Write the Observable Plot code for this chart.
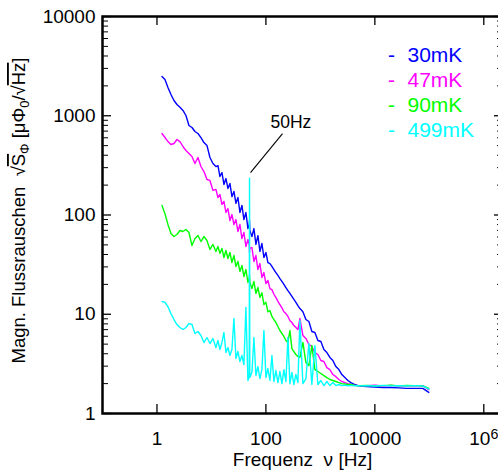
<!DOCTYPE html>
<html><head><meta charset="utf-8">
<script src="https://cdn.jsdelivr.net/npm/d3@7"></script>
<script src="https://cdn.jsdelivr.net/npm/@observablehq/plot@0.6"></script>
<style>
html,body{margin:0;padding:0;background:#fff;overflow:hidden;}
svg{max-width:none !important;}
</style></head><body><div id="chart"></div>
<script>
// shared frequency grid [Hz]
const freq = [
 1.235,1.402,1.591,1.806,2.051,2.328,2.642,2.999,3.405,3.865,4.387,4.981,5.654,6.418,7.285,8.270,9.387,10.66,12.09,
 13.16,14.32,15.58,16.96,18.45,20.08,21.85,23.78,25.88,28.16,30.64,33.34,36.28,39.48,42.95,46.74,49.4,50,50.6,55.35,60.23,65.54,71.32,77.61,84.46,91.9,100,108.8,118.4,128.9,140.2,152.6,166.1,180.7,196.7,214,232.8,253.4,275.7,300,326.5,355.3,386.6,420.7,
 477.5,542,615,698,793,900,1021,1160,1316,1494,1696,1925,2185,2480,2815,3196,3627,4118,4674,5306,
 7131,10000,14030,19670,27570,38660,54190,75970,97900
];
const s30mK = [
 2485,2320,1926,1637,1425,1299,1216,1130,1006,798,762,694,662,603,537,502,380,330,308,
 315,244,268,203,233,185,208,153,173,131,150,106,125,90,106,73,80,88,70,60.7,73,50.5,62,42.9,51.6,37.3,41.9,33.2,32.4,30.3,28.2,26.3,24.6,22.9,21.4,20.0,18.6,17.3,16.2,15.1,14.1,13.2,12.2,11.4,
 10.6,8.85,8.45,6.7,6.55,5.44,5.31,4.41,4.11,3.67,3.42,2.97,2.77,2.47,2.30,2.15,2.05,1.98,1.93,1.89,
 1.87,1.85,1.83,1.83,1.81,1.79,1.79,1.79,1.63
];
const s47mK = [
 662,604,549,513,525,576,549,490,447,417,389,330,380,308,274,228,223,177,181,
 150,161,128,137,106,116,88,101,80.2,90,68.2,80.2,57.9,66.6,48.2,56.6,50,41.9,46,47.1,34,39.1,28.2,32.4,23.5,26.3,20.4,21.9,18.1,17.7,15.9,14.8,13.5,12.5,11.6,10.6,10.15,9.5,8.65,8.26,7.70,7.35,7.02,9.06,
 6.11,5.71,4.96,4.73,4.11,3.93,3.42,3.34,2.90,2.77,2.47,2.35,2.20,2.10,2.05,2.0,1.96,1.93,1.91,1.91,
 1.91,1.93,1.90,1.92,1.90,1.91,1.90,1.91,1.74
];
const s90mK = [
 125,103,80.2,65.0,60.7,63.6,69.8,68.2,71.5,66.6,49.3,57.9,62.1,54.0,60.7,55.3,45.0,50.5,42.9,
 48.2,41.0,46.0,37.3,43.9,36.5,41.9,33.2,39.1,30.3,34.0,27.0,31.0,24.0,28.2,20.9,23,25,21,18.2,21.4,16.2,18.6,14.8,16.5,12.5,13.2,10.6,10.9,9.5,8.85,8.26,7.52,6.86,6.4,5.97,5.44,5.2,6.86,4.5,4.21,3.93,3.75,3.67,
 5.2,3.26,3.04,4.84,2.77,2.65,2.53,2.41,2.30,2.20,2.15,2.10,2.05,2.0,1.98,1.96,1.96,1.93,1.91,1.91,
 1.92,1.90,1.91,1.93,1.90,1.92,1.91,1.90,1.79
];
const s499mK = [
 13.4,13.2,11.9,10.15,8.85,7.88,7.35,7.02,7.35,8.06,7.88,6.4,6.7,6.11,5.19,5.83,5.07,5.70,4.62,
 5.44,4.41,5.2,6.55,4.11,4.62,3.84,4.41,9.06,3.58,4.21,3.34,3.84,3.11,11.7,2.15,2.4,235,2.3,2.59,5.83,2.41,2.97,2.25,2.77,6.86,2.30,2.84,2.15,3.84,2.10,2.71,2.05,2.65,2.0,2.77,2.10,5.83,2.0,2.59,1.96,2.47,2.05,8.65,
 2.0,2.25,5.07,1.96,4.84,1.96,2.15,1.91,2.10,1.91,2.05,1.91,1.96,1.91,1.93,1.90,1.92,1.90,1.91,1.90,
 1.91,1.89,1.92,1.90,1.91,1.89,1.91,1.90,1.76
];
const seriesNames = ["30mK","47mK","90mK","499mK"];
const seriesValues = [s30mK, s47mK, s90mK, s499mK];
const seriesColors = ["#0000ff","#ff00ff","#00ff00","#00ffff"];
const xTicks = [1, 100, 10000, 1e6];
const xTickLabels = ["1","100","10000","10\u2076"];
const yTicks = [1, 10, 100, 1000, 10000];
const yTickLabels = ["1","10","100","1000","10000"];
const yMinorTicks = [2,3,4,5,6,7,8,9,20,30,40,50,60,70,80,90,200,300,400,500,600,700,800,900,2000,3000,4000,5000,6000,7000,8000,9000];
const spikeNote = [{f: 50, s: 235, label: "50Hz"}];
const xTitle = "Frequenz\u00a0\u00a0\u03bd [Hz]";

const FONT = "'Liberation Sans', Arial, Helvetica, sans-serif";
const W = 504, H = 474, ML = 102, MR = 1, MT = 16, MB = 61;
const FW = W - ML - MR, FH = H - MT - MB;

const rows = seriesNames.flatMap((name, i) =>
  freq.map((f, j) => ({f, s: seriesValues[i][j], series: name})));

const lineMarks = seriesNames.map((name, i) =>
  Plot.line(rows.filter(d => d.series === name), {x: "f", y: "s", stroke: seriesColors[i], strokeWidth: 1.4}));

const legendMarks = seriesNames.flatMap((name, i) => [
  Plot.text(["-"], {frameAnchor: "top-right", dx: -112, dy: 39 + 25 * i, textAnchor: "middle", lineAnchor: "middle", fill: seriesColors[i], fontSize: 21}),
  Plot.text([name], {frameAnchor: "top-right", dx: -96, dy: 39 + 25 * i, textAnchor: "start", lineAnchor: "middle", fill: seriesColors[i], fontSize: 21})
]);

const chart = Plot.plot({
  width: W, height: H,
  marginLeft: ML, marginRight: MR, marginTop: MT, marginBottom: MB,
  style: {fontFamily: FONT, fontSize: "19px", background: "#fff", color: "black", maxWidth: "none"},
  x: {type: "log", domain: [0.1, 2.3e6]},
  y: {type: "log", domain: [1, 10000]},
  marks: [
    ...lineMarks,
    Plot.tickY(yTicks, {insetRight: FW - 9, stroke: "black", strokeWidth: 1.3}),
    Plot.tickY(yMinorTicks, {insetRight: FW - 6, stroke: "black", strokeWidth: 1}),
    Plot.tickY(yTicks, {insetLeft: FW - 9, stroke: "black", strokeWidth: 1.3}),
    Plot.tickY(yMinorTicks, {insetLeft: FW - 6, stroke: "black", strokeWidth: 1}),
    Plot.tickX(xTicks, {insetTop: FH - 9, stroke: "black", strokeWidth: 1.3}),
    Plot.tickX(xTicks, {insetBottom: FH - 9, stroke: "black", strokeWidth: 1.3}),
    Plot.axisY({ticks: yTicks, tickSize: 0, tickPadding: 7, label: null, fontSize: 19,
      tickFormat: d => yTickLabels[yTicks.indexOf(d)]}),
    Plot.axisX({ticks: xTicks, tickSize: 0, tickPadding: 18, label: null, fontSize: 19,
      tickFormat: d => xTickLabels[xTicks.indexOf(d)]}),
    Plot.frame({stroke: "black", strokeWidth: 2.5}),
    ...legendMarks,
    Plot.text(spikeNote, {x: "f", y: "s", text: "label", dx: 21, dy: -56, textAnchor: "start", lineAnchor: "middle", fontSize: 17.5, fill: "black"})
  ]
});
chart.style.maxWidth = "none";
document.getElementById("chart").append(chart);

const svg = d3.select(chart);
const xs = chart.scale("x"), ys = chart.scale("y");
const px = xs.apply(spikeNote[0].f), py = ys.apply(spikeNote[0].s);
svg.append("line").attr("x1", px + 1.5).attr("y1", py - 5).attr("x2", px + 33.5).attr("y2", py - 44)
  .attr("stroke", "black").attr("stroke-width", 1.1);

// x-axis title
svg.append("text").attr("x", ML + FW / 2).attr("y", 466).attr("text-anchor", "middle")
  .attr("font-family", FONT).attr("font-size", 19).attr("fill", "black").text(xTitle);

// y-axis title with subscripts
const yt = svg.append("text").attr("transform", `translate(25,${MT + FH / 2 - 4}) rotate(-90)`)
  .attr("text-anchor", "middle").attr("font-family", FONT).attr("font-size", 18.5).attr("fill", "black");
yt.append("tspan").text("Magn. Flussrauschen\u00a0\u00a0\u221a");
yt.append("tspan").style("text-decoration", "overline").text("S");
yt.append("tspan").attr("font-size", 13).attr("dy", 4).text("\u03a6");
yt.append("tspan").attr("dy", -4).text("\u00a0[\u03bc\u03a6");
yt.append("tspan").attr("font-size", 13).attr("dy", 4).text("0");
yt.append("tspan").attr("dy", -4).text("/\u221a");
yt.append("tspan").style("text-decoration", "overline").text("Hz");
yt.append("tspan").text("]");

// superscript for 10^6
svg.selectAll("text").each(function() {
  const t = d3.select(this);
  if (t.text() === "10\u2076") {
    t.text("10");
    t.append("tspan").attr("dy", "-0.45em").attr("font-size", "0.75em").text("6");
  }
});
</script></body></html>
